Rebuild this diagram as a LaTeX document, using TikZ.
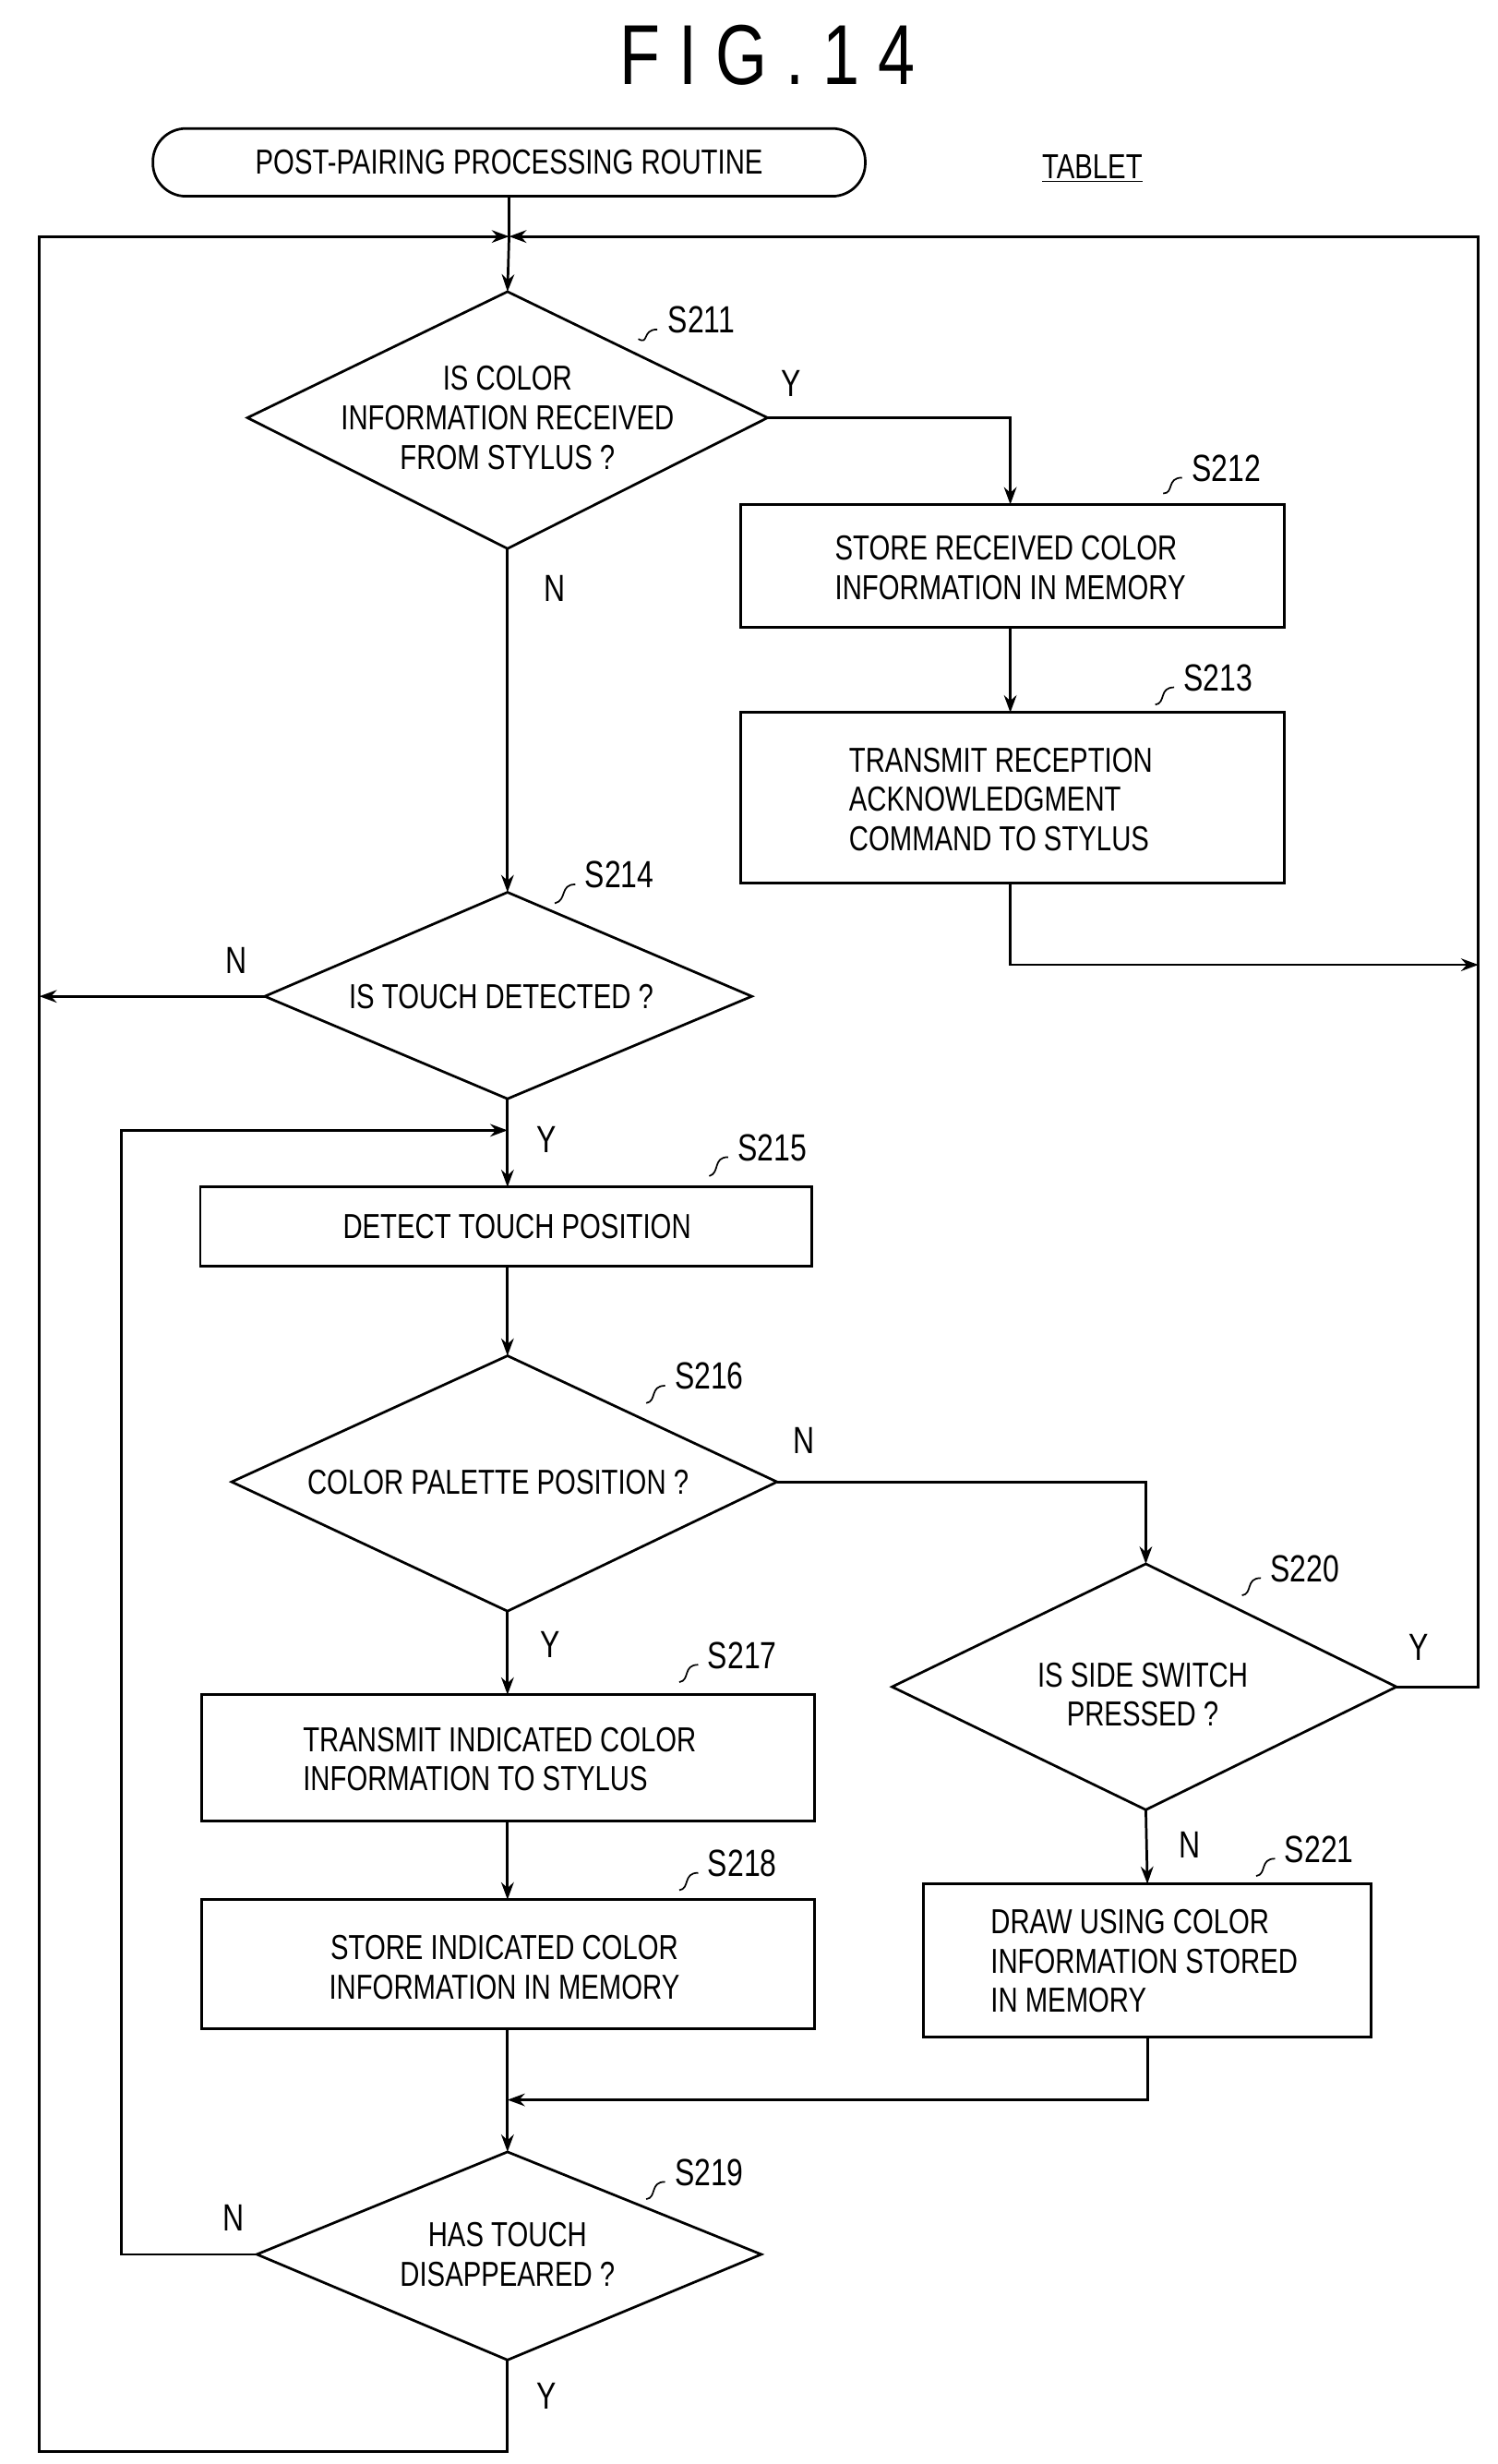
\documentclass[tikz,border=0pt]{standalone}
\usepackage{fontspec}
\setmainfont[FakeStretch=0.78]{Liberation Sans}
\usetikzlibrary{shapes.geometric,arrows.meta}
\begin{document}
\begin{tikzpicture}[x=1pt,y=-1pt,line width=1.6pt,
  every node/.style={font=\fontsize{22}{25}\selectfont},
  lab/.style={font=\fontsize{24}{26}\selectfont},
  arr/.style={-{Stealth[length=11pt,width=8pt]}}]
\useasboundingbox (0,0) rectangle (950,1563);
\node[font=\fontsize{54}{58}\selectfont] (title) at (487,35) {F I G . 1 4};
\node[draw,rounded corners=21pt,minimum width=452,minimum height=43] (start) at (323,103) {POST-PAIRING PROCESSING ROUTINE};
\node (tab) at (693,107) {\underline{TABLET}};
\coordinate (j1) at (323,150);
\draw (157,265) coordinate (d1l) -- (322,185) coordinate (d1t) -- (487,265) coordinate (d1r) -- (322,348) coordinate (d1b) -- cycle;
\node[align=center] (s211t) at (322,265) {IS COLOR\\INFORMATION RECEIVED\\FROM STYLUS ?};
\draw (470,320) rectangle (815,398); \coordinate (b2t) at (641,320); \coordinate (b2b) at (641,398);
\node[align=left] (s212t) at (641,360) {STORE RECEIVED COLOR\\INFORMATION IN MEMORY};
\draw (470,452) rectangle (815,560); \coordinate (b3t) at (641,452); \coordinate (b3b) at (641,560);
\node[align=left] (s213t) at (635,507) {TRANSMIT RECEPTION\\ACKNOWLEDGMENT\\COMMAND TO STYLUS};
\draw (168,632) coordinate (d4l) -- (322,566) coordinate (d4t) -- (477,632) -- (322,697) coordinate (d4b) -- cycle;
\node (s214t) at (318,632) {IS TOUCH DETECTED ?};
\draw (127,753) rectangle (515,803); \coordinate (b5t) at (322,753); \coordinate (b5b) at (322,803);
\coordinate (j5) at (322,717);
\node (s215t) at (328,778) {DETECT TOUCH POSITION};
\draw (147,940) -- (322,860) coordinate (d6t) -- (493,940) coordinate (d6r) -- (322,1022) coordinate (d6b) -- cycle;
\node (s216t) at (316,940) {COLOR PALETTE POSITION ?};
\draw (566,1070) -- (727,992) coordinate (d0t) -- (886,1070) coordinate (d0r) -- (727,1148) coordinate (d0b) -- cycle;
\node[align=center] (s220t) at (725,1075) {IS SIDE SWITCH\\PRESSED ?};
\draw (586,1195) rectangle (870,1292); \coordinate (b21t) at (728,1195); \coordinate (b21b) at (728,1292);
\node[align=left] (s221t) at (726,1244) {DRAW USING COLOR\\INFORMATION STORED\\IN MEMORY};
\draw (128,1075) rectangle (517,1155); \coordinate (b7t) at (322,1075); \coordinate (b7b) at (322,1155);
\node[align=left] (s217t) at (317,1116) {TRANSMIT INDICATED COLOR\\INFORMATION TO STYLUS};
\draw (128,1205) rectangle (517,1287); \coordinate (b8t) at (322,1205); \coordinate (b8b) at (322,1287);
\node[align=center] (s218t) at (320,1248) {STORE INDICATED COLOR\\INFORMATION IN MEMORY};
\draw (163,1430) coordinate (d9l) -- (322,1365) coordinate (d9t) -- (483,1430) -- (322,1497) coordinate (d9b) -- cycle;
\node[align=center] (s219t) at (322,1430) {HAS TOUCH\\DISAPPEARED ?};
\foreach \t/\x/\y/\ax/\ay in {S211/445/203/405/215, S212/778/297/738/313, S213/773/430/733/447, S214/393/555/352/573, S215/490/728/450/746, S216/450/873/410/890, S220/828/995/788/1012, S221/837/1173/797/1190, S217/471/1050/431/1067, S218/471/1182/431/1199, S219/450/1378/410/1395}
  {\node[lab] at (\x,\y) {\t};
   \draw[line width=1pt] (\x-28,\y+6) .. controls (\x-38,\y+6) and (\x-33,\y+16) .. (\ax,\ay);}
\draw (start) -- (j1);
\draw[arr] (j1) -- (d1t);
\draw[arr] (d1r) -| (b2t);
\draw[arr] (b2b) -- (b3t);
\coordinate (rl) at (938,612); \coordinate (rt) at (938,150);
\draw[arr] (b3b) |- (rl);
\draw[arr] (d0r) -| (rt) -- (j1);
\draw[arr] (d1b) -- (d4t);
\draw[arr] (d4l) -- (25,632) coordinate (ll);
\draw[arr] (d4b) -- (b5t);
\draw[arr] (b5b) -- (d6t);
\draw[arr] (d6r) -| (d0t);
\draw[arr] (d0b) -- (b21t);
\draw[arr] (d6b) -- (b7t);
\draw[arr] (b7b) -- (b8t);
\coordinate (m1) at (322,1332);
\draw (b8b) -- (m1);
\draw[arr] (b21b) |- (m1);
\draw[arr] (m1) -- (d9t);
\draw[arr] (d9l) -- (77,1430) |- (j5);
\draw[arr] (d9b) |- (25,1555) -- (25,150) -- (j1);
\node[lab] at (502,243) {Y};
\node[lab] at (352,373) {N};
\node[lab] at (150,609) {N};
\node[lab] at (347,723) {Y};
\node[lab] at (510,914) {N};
\node[lab] at (900,1045) {Y};
\node[lab] at (755,1170) {N};
\node[lab] at (349,1043) {Y};
\node[lab] at (148,1407) {N};
\node[lab] at (347,1520) {Y};
\end{tikzpicture}
\end{document}
